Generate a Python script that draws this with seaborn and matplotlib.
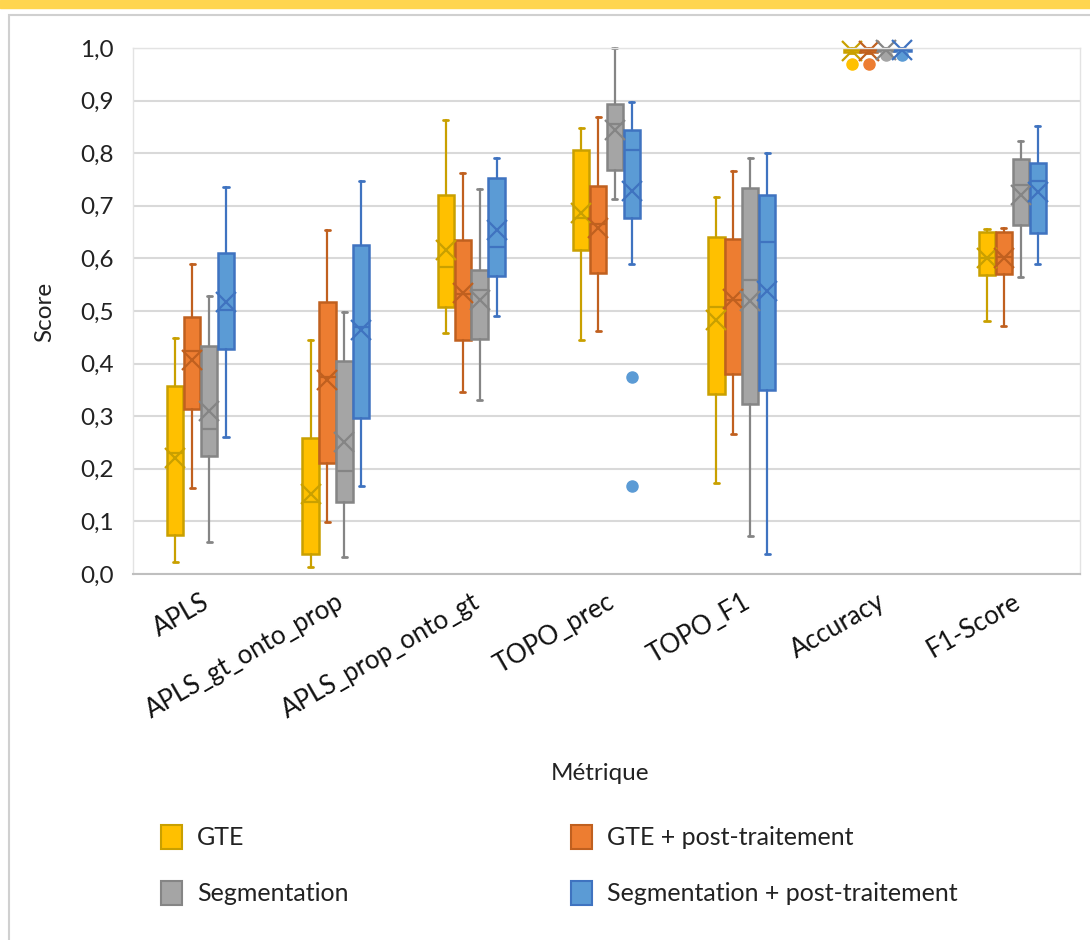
import matplotlib
matplotlib.use("Agg")
import matplotlib.pyplot as plt
from matplotlib.patches import Patch, Rectangle
from matplotlib.ticker import FuncFormatter
import seaborn as sns

# categories and series
metrics = ["APLS", "APLS_gt_onto_prop", "APLS_prop_onto_gt", "TOPO_prec",
           "TOPO_F1", "Accuracy", "F1-Score"]
series = ["GTE", "GTE + post-traitement", "Segmentation",
          "Segmentation + post-traitement"]

# five-number summaries + mean, one row per series, one column per metric
whisker_low = [
    [0.023, 0.013, 0.458, 0.445, 0.173, 0.990, 0.481],
    [0.164, 0.099, 0.346, 0.462, 0.266, 0.990, 0.472],
    [0.061, 0.032, 0.331, 0.713, 0.072, 0.991, 0.565],
    [0.260, 0.167, 0.490, 0.589, 0.038, 0.991, 0.589],
]
q1 = [
    [0.074, 0.038, 0.508, 0.616, 0.342, 0.993, 0.568],
    [0.314, 0.211, 0.445, 0.572, 0.380, 0.993, 0.570],
    [0.224, 0.137, 0.447, 0.768, 0.323, 0.994, 0.663],
    [0.428, 0.297, 0.567, 0.677, 0.350, 0.994, 0.648],
]
median = [
    [0.230, 0.137, 0.584, 0.676, 0.508, 0.996, 0.600],
    [0.424, 0.375, 0.532, 0.665, 0.520, 0.996, 0.602],
    [0.276, 0.196, 0.540, 0.855, 0.559, 0.996, 0.739],
    [0.502, 0.470, 0.622, 0.806, 0.631, 0.996, 0.747],
]
q3 = [
    [0.357, 0.259, 0.720, 0.806, 0.640, 0.998, 0.650],
    [0.489, 0.517, 0.635, 0.738, 0.637, 0.998, 0.650],
    [0.434, 0.405, 0.578, 0.893, 0.734, 0.998, 0.789],
    [0.610, 0.625, 0.753, 0.844, 0.720, 0.998, 0.781],
]
whisker_high = [
    [0.449, 0.445, 0.863, 0.848, 0.717, 1.000, 0.656],
    [0.589, 0.654, 0.762, 0.869, 0.766, 1.000, 0.657],
    [0.528, 0.498, 0.732, 1.000, 0.791, 1.000, 0.823],
    [0.735, 0.747, 0.791, 0.897, 0.800, 1.000, 0.852],
]
mean = [
    [0.220, 0.152, 0.616, 0.686, 0.483, 0.995, 0.600],
    [0.407, 0.369, 0.534, 0.658, 0.523, 0.995, 0.600],
    [0.310, 0.251, 0.521, 0.844, 0.519, 0.996, 0.720],
    [0.517, 0.464, 0.654, 0.728, 0.538, 0.996, 0.726],
]
# outliers per series: {metric index: [values]}
outliers = [
    {5: [0.969]},
    {5: [0.969]},
    {5: [0.986]},
    {3: [0.375, 0.167], 5: [0.986]},
]

fill_colors = ["#FFC000", "#ED7D31", "#A5A5A5", "#5B9BD5"]
edge_colors = ["#C9A000", "#C0601F", "#858585", "#3F73C0"]

sns.set_theme(style="white")
plt.rcParams["font.family"] = ["Lato", "DejaVu Sans"]

W, H = 1090, 940
fig = plt.figure(figsize=(W / 100, H / 100), dpi=100)

# yellow band and chart frame
fig.patches.append(Rectangle((0, 1 - 8 / H), 1, 8 / H, transform=fig.transFigure,
                             color="#FFD54F", zorder=-2))
fig.patches.append(Rectangle((9 / W, -0.01), 1.0, 1 - 15 / H + 0.01,
                             transform=fig.transFigure, facecolor="white",
                             edgecolor="#D0D0D0", lw=1.5, zorder=-2))

left, right, top, bottom = 133, 1080, 48, 574
ax = fig.add_axes([left / W, 1 - bottom / H, (right - left) / W, (bottom - top) / H])
ax.set_zorder(2)
ax.set_facecolor("none")

width = 0.125
offsets = [-1.5 * width, -0.5 * width, 0.5 * width, 1.5 * width]

for s in range(len(series)):
    stats = []
    for m in range(len(metrics)):
        stats.append(dict(
            whislo=whisker_low[s][m], q1=q1[s][m], med=median[s][m],
            q3=q3[s][m], whishi=whisker_high[s][m], mean=mean[s][m],
            fliers=outliers[s].get(m, []),
        ))
    pos = [m + offsets[s] for m in range(len(metrics))]
    ec = edge_colors[s]
    ax.bxp(stats, positions=pos, widths=width * 0.97, patch_artist=True,
           showmeans=True, manage_ticks=False,
           boxprops=dict(facecolor=fill_colors[s], edgecolor=ec, lw=1.8),
           medianprops=dict(color=ec, lw=1.6),
           whiskerprops=dict(color=ec, lw=1.6),
           capprops=dict(color=ec, lw=2.0),
           capwidths=width * 0.3,
           meanprops=dict(marker="x", markersize=14, markeredgecolor=ec,
                          markeredgewidth=1.6),
           flierprops=dict(marker="o", markersize=8, markerfacecolor=fill_colors[s],
                           markeredgecolor=fill_colors[s]))

for artist in ax.lines + ax.patches:
    artist.set_clip_on(False)

ax.set_xlim(-0.5, len(metrics) - 0.5)
ax.set_ylim(0, 1.0)
ax.set_yticks([i / 10 for i in range(11)])
ax.yaxis.set_major_formatter(FuncFormatter(lambda v, p: f"{v:.1f}".replace(".", ",")))
ax.grid(axis="y", color="#D9D9D9", lw=1.5)
ax.set_axisbelow(True)
for side in ["left", "top", "right"]:
    ax.spines[side].set_color("#E3E3E3")
    ax.spines[side].set_linewidth(1.0)
ax.spines["bottom"].set_color("#BFBFBF")
ax.spines["bottom"].set_linewidth(1.5)

ax.set_xticks(range(len(metrics)))
ax.set_xticklabels(metrics, rotation=30, ha="right", rotation_mode="anchor")
ax.tick_params(axis="x", length=0, pad=11, labelsize=18.5, labelcolor="#111111")
ax.tick_params(axis="y", length=0, pad=14, labelsize=17.5, labelcolor="#222222")

fig.text(45 / W, 1 - 312 / H, "Score", rotation=90, ha="center", va="center",
         fontsize=17.5, color="#222222")
fig.text(600 / W, 1 - 773 / H, "Métrique", ha="center", va="center",
         fontsize=17.5, color="#222222")

# legend filled row by row: GTE, GTE+pt / Segmentation, Segmentation+pt
order = [0, 2, 1, 3]
handles = [Patch(facecolor=fill_colors[i], edgecolor=edge_colors[i], lw=1.5)
           for i in order]
leg = fig.legend(handles, [series[i] for i in order], ncol=2, loc="upper left",
                 bbox_to_anchor=(138 / W, 1 - 802 / H), frameon=False,
                 fontsize=18, handlelength=0.85, handleheight=1.1,
                 handletextpad=0.6, columnspacing=8.9, labelspacing=1.27)
for t in leg.get_texts():
    t.set_color("#222222")

fig.savefig("out.png", dpi=100)
